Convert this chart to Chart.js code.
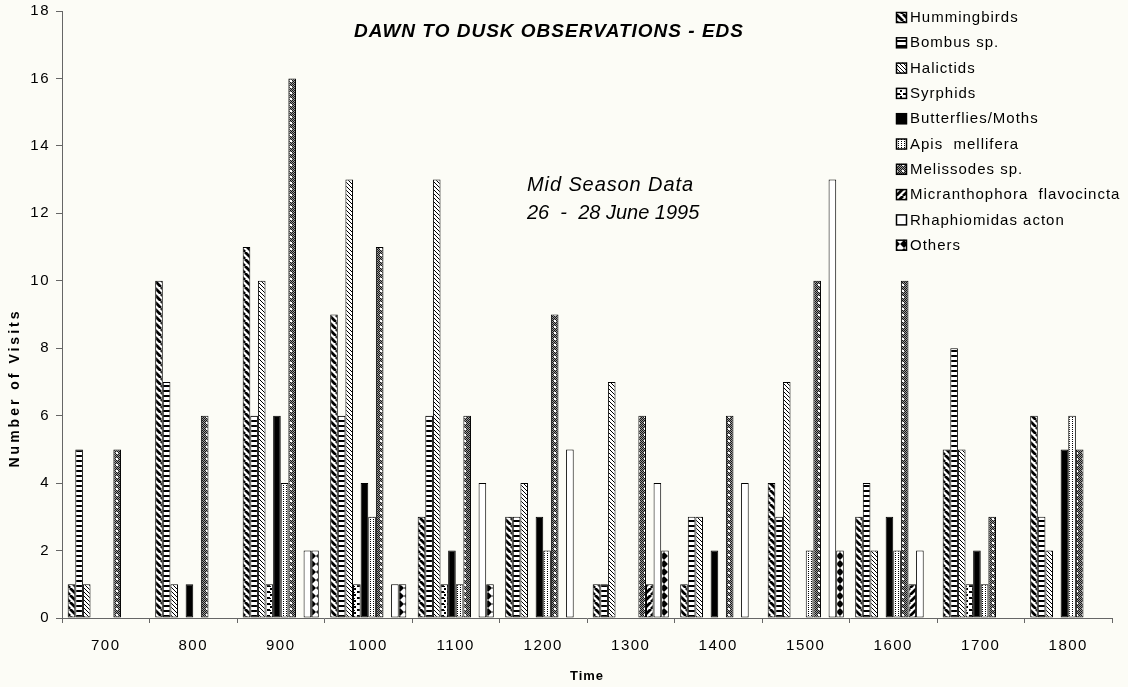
<!DOCTYPE html>
<html>
<head>
<meta charset="utf-8">
<title>Dawn to Dusk Observations - EDS</title>
<script src="https://cdn.jsdelivr.net/npm/chart.js@4.4.1/dist/chart.umd.min.js"></script>
<style>
  html, body { margin: 0; padding: 0; background: #fcfcf6; }
  #wrap { width: 1128px; height: 687px; }
</style>
</head>
<body>
<div id="wrap"><canvas id="visits" width="1128" height="687"></canvas></div>
<script>
// Visits per hour, mid season (26 - 28 June 1995)
const times = ['700', '800', '900', '1000', '1100', '1200', '1300', '1400', '1500', '1600', '1700', '1800'];
const hummingbirds   = [1, 10, 11,  9,  3, 3, 1, 1,  4,  3, 5, 6];
const bombus         = [5,  7,  6,  6,  6, 3, 1, 3,  3,  4, 8, 3];
const halictids      = [1,  1, 10, 13, 13, 4, 7, 3,  7,  2, 5, 2];
const syrphids       = [0,  0,  1,  1,  1, 0, 0, 0,  0,  0, 1, 0];
const butterflies    = [0,  1,  6,  4,  2, 3, 0, 2,  0,  3, 2, 5];
const apis           = [0,  0,  4,  3,  1, 2, 0, 0,  2,  2, 1, 6];
const melissodes     = [5,  6, 16, 11,  6, 9, 6, 6, 10, 10, 3, 5];
const micranthophora = [0,  0,  0,  0,  0, 0, 1, 0,  0,  1, 0, 0];
const rhaphiomidas   = [0,  0,  2,  1,  4, 5, 4, 4, 13,  2, 0, 0];
const others         = [0,  0,  2,  1,  1, 0, 2, 0,  2,  0, 0, 0];
const yTicks = [0, 2, 4, 6, 8, 10, 12, 14, 16, 18];

const FONT = '"Liberation Sans", Arial, Helvetica, sans-serif';

// small fill tiles for the black & white bar hatching
function tile(w, h, draw) {
    const c = document.createElement('canvas');
    c.width = w;
    c.height = h;
    const g = c.getContext('2d');
    g.fillStyle = '#fff';
    g.fillRect(0, 0, w, h);
    g.fillStyle = '#000';
    g.strokeStyle = '#000';
    draw(g, w, h);
    return g.createPattern(c, 'repeat');
}

function stripes(p, lw, up) {
    return tile(p, p, g => {
        g.lineWidth = lw;
        g.beginPath();
        for (let k = -1; k <= 1; k++) {
            if (up) { g.moveTo(k * p, p); g.lineTo(k * p + p, 0); }
            else { g.moveTo(k * p, 0); g.lineTo(k * p + p, p); }
        }
        g.stroke();
    });
}

const fills = {
    hummingbirds: stripes(7, 2.8, false),
    bombus: tile(8, 5, g => g.fillRect(0, 0, 8, 2)),
    halictids: stripes(4, 1, false),
    syrphids: tile(6, 6, g => {
        g.fillRect(0, 0, 2, 2);
        g.fillRect(3, 3, 3, 2);
        g.fillRect(0, 4, 1, 1);
    }),
    butterflies: '#000',
    apis: tile(3, 2, g => g.fillRect(1, 1, 1, 1)),
    melissodes: tile(6, 6, g => {
        for (let y = 0; y < 6; y++) {
            for (let x = 0; x < 6; x++) {
                g.fillStyle = (x + y) % 2 ? '#9a9a9a' : '#151515';
                g.fillRect(x, y, 1, 1);
            }
        }
        g.fillStyle = '#fff';
        g.fillRect(2, 2, 2, 2);
    }),
    micranthophora: stripes(7, 2.8, true),
    rhaphiomidas: '#fff',
    others: tile(8, 8, g => {
        g.beginPath();
        g.moveTo(0, 0); g.lineTo(0, 8); g.lineTo(4, 4); g.closePath();
        g.moveTo(8, 0); g.lineTo(8, 8); g.lineTo(4, 4); g.closePath();
        g.fill();
    })
};

const series = [
    ['Hummingbirds', hummingbirds, fills.hummingbirds],
    ['Bombus sp.', bombus, fills.bombus],
    ['Halictids', halictids, fills.halictids],
    ['Syrphids', syrphids, fills.syrphids],
    ['Butterflies/Moths', butterflies, fills.butterflies],
    ['Apis  mellifera', apis, fills.apis],
    ['Melissodes sp.', melissodes, fills.melissodes],
    ['Micranthophora  flavocincta', micranthophora, fills.micranthophora],
    ['Rhaphiomidas acton', rhaphiomidas, fills.rhaphiomidas],
    ['Others', others, fills.others]
];

// wider tracking for the axis tick labels
const tracking = {
    id: 'tracking',
    beforeDraw(chart) { chart.ctx.letterSpacing = '1.5px'; }
};

// titles, note and the legend are drawn straight onto the canvas
const decorations = {
    id: 'decorations',
    afterDraw(chart) {
        const ctx = chart.ctx;
        const area = chart.chartArea;
        ctx.save();
        ctx.fillStyle = '#000';
        ctx.textBaseline = 'middle';

        ctx.letterSpacing = '1px';
        ctx.font = 'italic bold 19px ' + FONT;
        ctx.textAlign = 'center';
        ctx.fillText('DAWN TO DUSK OBSERVATIONS - EDS', 549, 32);

        ctx.letterSpacing = '1px';
        ctx.font = 'bold 13px ' + FONT;
        ctx.fillText('Time', (area.left + area.right) / 2, 676);

        ctx.font = 'italic 20px ' + FONT;
        ctx.textAlign = 'left';
        ctx.letterSpacing = '0.9px';
        ctx.fillText('Mid Season Data', 527, 185);
        ctx.letterSpacing = '0px';
        ctx.fillText('26  -  28 June 1995', 527, 213);

        ctx.font = '15px ' + FONT;
        ctx.letterSpacing = '1px';
        chart.data.datasets.forEach((ds, i) => {
            const y = 18 + i * 25.3;
            ctx.fillStyle = ds.backgroundColor;
            ctx.fillRect(896, y - 6, 11, 11);
            ctx.strokeStyle = '#000';
            ctx.lineWidth = 1.5;
            ctx.strokeRect(896.5, y - 5.5, 10, 10);
            ctx.fillStyle = '#000';
            ctx.fillText(ds.label, 910, y);
        });

        ctx.translate(15, 388);
        ctx.rotate(-Math.PI / 2);
        ctx.textAlign = 'center';
        ctx.letterSpacing = '3px';
        ctx.font = 'bold 14px ' + FONT;
        ctx.fillText('Number of Visits', 0, 0);
        ctx.restore();
    }
};

new Chart(document.getElementById('visits'), {
    type: 'bar',
    data: {
        labels: times,
        datasets: series.map(([label, values, fill]) => ({
            label: label,
            data: values.map(v => (v === 0 ? null : v)),
            backgroundColor: fill,
            borderColor: '#000',
            borderWidth: 1,
            borderSkipped: false,
            barPercentage: 1,
            categoryPercentage: 0.87
        }))
    },
    options: {
        responsive: false,
        devicePixelRatio: 1,
        animation: false,
        layout: { padding: { top: 11, right: 16, left: 0, bottom: 0 } },
        plugins: {
            legend: { display: false },
            tooltip: { enabled: false }
        },
        scales: {
            x: {
                grid: { drawOnChartArea: false, tickLength: 5, color: '#666', offset: true },
                border: { color: '#666', width: 1 },
                ticks: { color: '#000', font: { family: FONT, size: 15 }, padding: 14, maxRotation: 0 },
                afterFit: scale => {
                    scale.height = 69;
                    scale.paddingLeft = 0;
                    scale.paddingRight = 0;
                }
            },
            y: {
                min: 0,
                max: 18,
                afterBuildTicks: scale => { scale.ticks = yTicks.map(v => ({ value: v })); },
                grid: { drawOnChartArea: false, tickLength: 6, color: '#666' },
                border: { color: '#666', width: 1 },
                ticks: { color: '#000', font: { family: FONT, size: 15 }, padding: 6 },
                afterFit: scale => {
                    scale.width = 62;
                    scale.paddingTop = 0;
                    scale.paddingBottom = 0;
                }
            }
        }
    },
    plugins: [tracking, decorations]
});
</script>
</body>
</html>
